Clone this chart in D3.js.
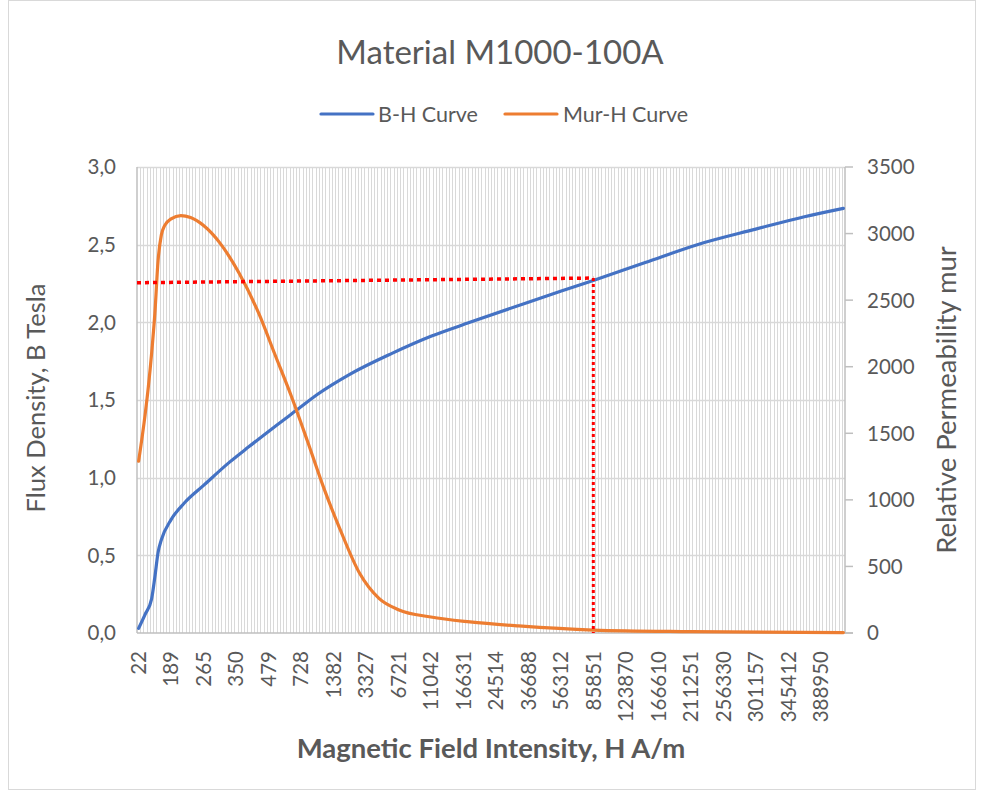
<!DOCTYPE html>
<html>
<head>
<meta charset="utf-8">
<script src="https://cdn.jsdelivr.net/npm/d3@7"></script>
<style>
  html, body { margin: 0; padding: 0; background: #fff; }
  svg { display: block; }
  text { font-family: Lato, "Open Sans", sans-serif; fill: #595959; }
</style>
</head>
<body>
<svg id="chart" width="985" height="794"></svg>
<script>
// ---------------- DATA ----------------
const chartTitle = "Material M1000-100A";
const seriesNames = ["B-H Curve", "Mur-H Curve"];
// H (A/m) category labels shown on the axis (every 10th category)
const hTickLabels = [22, 189, 265, 350, 479, 728, 1382, 3327, 6721, 11042, 16631,
  24514, 36688, 56312, 85851, 123870, 166610, 211251, 256330, 301157, 345412, 388950];
const labelEvery = 10;
const categoryCount = 218;
// B-H curve: category index -> flux density (T)
const bhIndex  = [0, 2, 4, 5, 6, 7, 10, 14, 20, 28, 34, 42, 49, 55, 65, 78, 90, 102, 120, 140, 156, 172, 190, 205, 217];
const bhValues = [0.03, 0.12, 0.22, 0.36, 0.52, 0.60, 0.73, 0.835, 0.95, 1.10, 1.20, 1.33, 1.44, 1.535, 1.665, 1.80, 1.91, 2.00, 2.13, 2.27, 2.385, 2.50, 2.60, 2.68, 2.734];
// Mur-H curve: category index -> relative permeability
const murIndex  = [0, 2, 3, 4, 5, 6, 7, 8, 10, 13, 16, 20, 25, 31, 37, 42, 47, 52, 57, 62, 68, 74, 80, 90, 102, 117, 140, 170, 217];
const murValues = [1290, 1640, 1850, 2100, 2400, 2800, 2990, 3060, 3110, 3135, 3120, 3060, 2930, 2700, 2400, 2090, 1780, 1440, 1090, 780, 450, 260, 175, 120, 83, 53, 22, 10, 3];
// Marker (red dotted guide) : operating point at H = 85851
const markerIndex = [0, 140];
const markerB = [2.255, 2.285];
const leftTicks = [0, 0.5, 1.0, 1.5, 2.0, 2.5, 3.0];
const rightTicks = [0, 500, 1000, 1500, 2000, 2500, 3000, 3500];

// ---------------- LAYOUT ----------------
const svg = d3.select("#chart");
const plot = { left: 137, right: 845, top: 167, bottom: 633 };
const colors = { bh: "#4472C4", mur: "#ED7D31", grid: "#d9d9d9", axis: "#bfbfbf" };

const cats = d3.range(categoryCount);
const x = d3.scaleBand().domain(cats).range([plot.left, plot.right]).padding(0);
const cx = i => x(i) + x.bandwidth() / 2;
const yL = d3.scaleLinear().domain([0, 3]).range([plot.bottom, plot.top]);
const yR = d3.scaleLinear().domain([0, 3500]).range([plot.bottom, plot.top]);

// outer chart border
svg.append("rect").attr("x", 8.5).attr("y", 0.5).attr("width", 967).attr("height", 789)
  .attr("fill", "#fff").attr("stroke", "#d9d9d9").attr("stroke-width", 1);

// vertical category gridlines
svg.append("g").selectAll("line").data(cats.slice(1)).join("line")
  .attr("x1", d => Math.round(x(d)) + 0.5).attr("x2", d => Math.round(x(d)) + 0.5)
  .attr("y1", plot.top).attr("y2", plot.bottom)
  .attr("stroke", colors.grid).attr("stroke-width", 1);

// horizontal gridlines
svg.append("g").selectAll("line").data(leftTicks.slice(1)).join("line")
  .attr("x1", plot.left).attr("x2", plot.right)
  .attr("y1", d => Math.round(yL(d)) + 0.5).attr("y2", d => Math.round(yL(d)) + 0.5)
  .attr("stroke", colors.grid).attr("stroke-width", 1.5);

// axes lines
const axisG = svg.append("g").attr("stroke", colors.axis).attr("stroke-width", 1.5);
axisG.append("line").attr("x1", plot.left).attr("x2", plot.left).attr("y1", plot.top).attr("y2", plot.bottom);
axisG.append("line").attr("x1", plot.right).attr("x2", plot.right).attr("y1", plot.top).attr("y2", plot.bottom);
axisG.append("line").attr("x1", plot.left).attr("x2", plot.right + 8).attr("y1", plot.bottom).attr("y2", plot.bottom);
// right axis tick marks
axisG.selectAll("line.rt").data(rightTicks).join("line").attr("class", "rt")
  .attr("x1", plot.right).attr("x2", plot.right + 8)
  .attr("y1", d => yR(d)).attr("y2", d => yR(d));

// left tick labels
const fmtL = d => d3.format(".1f")(d).replace(".", ",");
svg.append("g").selectAll("text").data(leftTicks).join("text")
  .attr("x", 116).attr("y", d => yL(d)).attr("dy", "0.36em")
  .attr("text-anchor", "end").attr("font-size", 20.5).text(fmtL);

// right tick labels
svg.append("g").selectAll("text").data(rightTicks).join("text")
  .attr("x", 867).attr("y", d => yR(d)).attr("dy", "0.36em")
  .attr("text-anchor", "start").attr("font-size", 20.5).text(d => d);

// x tick labels (rotated)
svg.append("g").selectAll("text").data(hTickLabels).join("text")
  .attr("transform", (d, k) => `translate(${cx(k * labelEvery)},651) rotate(-90)`)
  .attr("dy", "0.36em").attr("text-anchor", "end").attr("font-size", 20.5).text(d => d);

// series lines
const lineB = d3.line().x((d, k) => cx(bhIndex[k])).y(d => yL(d)).curve(d3.curveMonotoneX);
const lineM = d3.line().x((d, k) => cx(murIndex[k])).y(d => yR(d)).curve(d3.curveMonotoneX);
svg.append("path").datum(bhValues).attr("d", lineB)
  .attr("fill", "none").attr("stroke", colors.bh).attr("stroke-width", 3.2).attr("stroke-linecap", "round");
svg.append("path").datum(murValues).attr("d", lineM)
  .attr("fill", "none").attr("stroke", colors.mur).attr("stroke-width", 3.2).attr("stroke-linecap", "round");

// red dotted guide lines
svg.append("line")
  .attr("x1", plot.left).attr("y1", yL(markerB[0]))
  .attr("x2", cx(markerIndex[1])).attr("y2", yL(markerB[1]))
  .attr("stroke", "#ff0000").attr("stroke-width", 3.5).attr("stroke-dasharray", "4,4");
svg.append("line")
  .attr("x1", cx(markerIndex[1])).attr("y1", yL(markerB[1]))
  .attr("x2", cx(markerIndex[1])).attr("y2", yL(0))
  .attr("stroke", "#ff0000").attr("stroke-width", 3).attr("stroke-dasharray", "3,3");

// title
svg.append("text").attr("x", 500).attr("y", 64).attr("text-anchor", "middle")
  .attr("font-size", 33).text(chartTitle);

// legend
const legend = [
  { name: seriesNames[0], color: colors.bh, x1: 321, x2: 373, tx: 378 },
  { name: seriesNames[1], color: colors.mur, x1: 505, x2: 557, tx: 563 }
];
const lg = svg.append("g");
legend.forEach(l => {
  lg.append("line").attr("x1", l.x1).attr("x2", l.x2).attr("y1", 114).attr("y2", 114)
    .attr("stroke", l.color).attr("stroke-width", 3.2).attr("stroke-linecap", "round");
  lg.append("text").attr("x", l.tx).attr("y", 114).attr("dy", "0.36em")
    .attr("font-size", 21.5).text(l.name);
});

// axis titles
svg.append("text").attr("transform", "translate(45,398) rotate(-90)")
  .attr("text-anchor", "middle").attr("font-size", 25.5).text("Flux Density, B Tesla");
svg.append("text").attr("transform", "translate(956,400) rotate(-90)")
  .attr("text-anchor", "middle").attr("font-size", 27.5).text("Relative Permeability mur");
svg.append("text").attr("x", 491).attr("y", 758).attr("text-anchor", "middle")
  .attr("font-size", 27.5).attr("font-weight", "bold").text("Magnetic Field Intensity, H A/m");
</script>
</body>
</html>
